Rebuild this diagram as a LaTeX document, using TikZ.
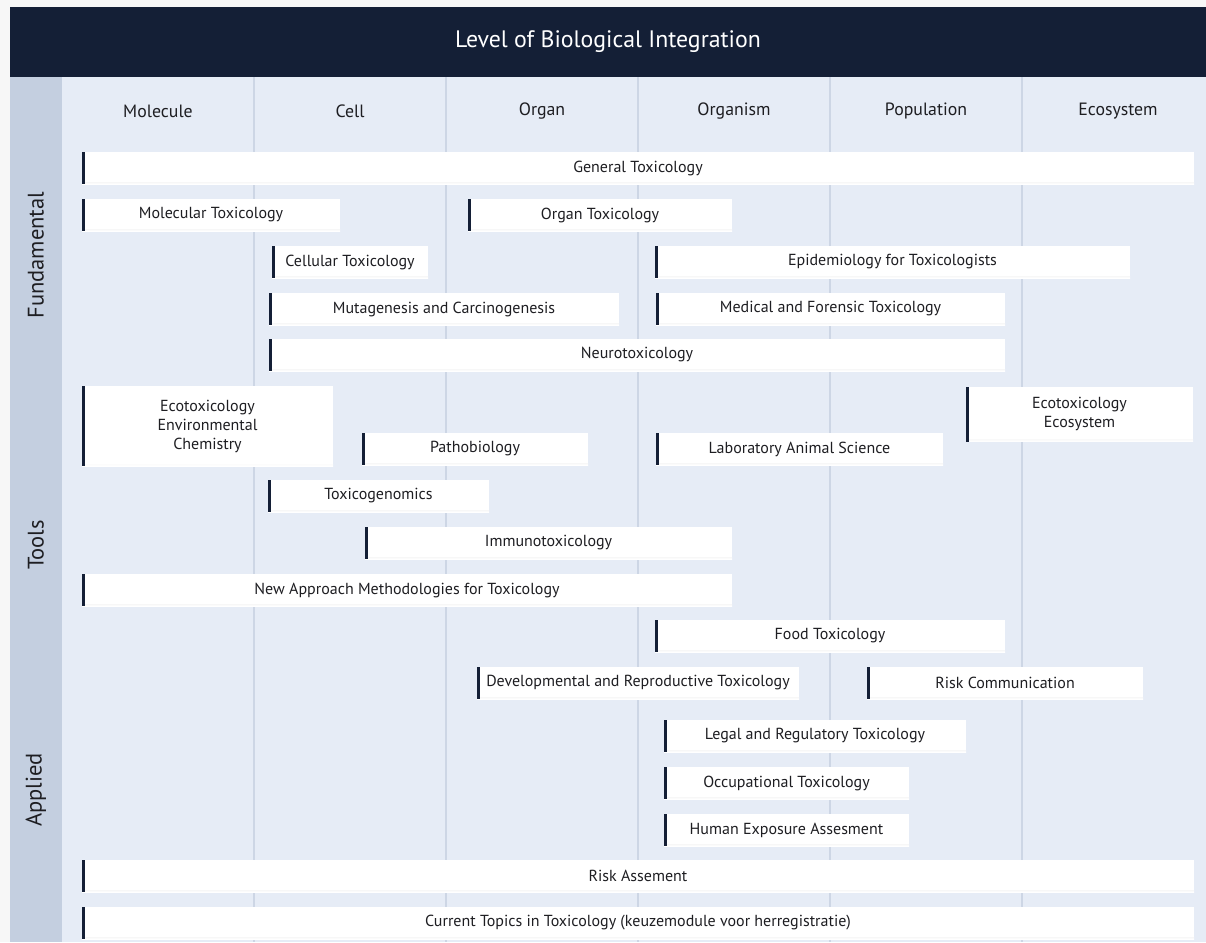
\documentclass[tikz,border=0pt]{standalone}
\usepackage{fontspec}
\setmainfont{PT Sans}
\definecolor{navy}{RGB}{20, 31, 54}
\definecolor{sidebar}{RGB}{196, 207, 224}
\definecolor{panel}{RGB}{230, 236, 246}
\definecolor{gridline}{RGB}{205, 214, 229}
\definecolor{shade}{RGB}{200, 211, 228}
\definecolor{ink}{RGB}{30, 30, 34}
\definecolor{page}{RGB}{247, 247, 247}
\usetikzlibrary{positioning}
\tikzset{
	topic/.style={rectangle, fill=white, inner sep=0pt, outer sep=0pt, minimum height=32pt, anchor=west, align=center, text=ink, font=\fontsize{16}{19}\selectfont,
		path picture={
			\fill[shade] ([yshift=2pt]path picture bounding box.south west) rectangle (path picture bounding box.south east);
			\fill[navy] (path picture bounding box.north west) rectangle ([xshift=3pt]path picture bounding box.south west);
		}},
	level/.style={font=\fontsize{17.8}{20}\selectfont, text=ink},
	rowlabel/.style={rotate=90, font=\fontsize{22.5}{26}\selectfont, text=ink},
	gridrule/.style={draw=gridline, line width=1.3pt},
}
\begin{document}
\begin{tikzpicture}[x=1pt, y=-1pt]
	\useasboundingbox (0,0) rectangle (1206,942);
	\fill[page] (0,0) rectangle (1206,942);
	% panels
	\fill[panel] (62,77) rectangle (1206,942);
	\fill[sidebar] (10,77) rectangle (62,942);
	\fill[navy] (10,7) rectangle (1206,77);
	\node[text=white, font=\fontsize{23.8}{28}\selectfont] (title) at (608,42) {Level of Biological Integration};
	% columns
	\foreach \xline in {254,446,638,830,1022}
		\draw[gridrule] (\xline,77) -- (\xline,942);
	\foreach \lname [count=\i from 0] in {Molecule,Cell,Organ,Organism,Population,Ecosystem}
		\node[level] (col\i) at (158+192*\i,111) {\lname};
	% rows
	\node[rowlabel] (fund) at (36,255) {Fundamental};
	\node[rowlabel] (tools) at (36,545) {Tools};
	\node[rowlabel] (appl) at (36,790) {Applied};

	% fundamental
	\node[topic, minimum width=1112pt] (gentox) at (82,168) {General Toxicology};
	\node[topic, minimum width=258pt] (moltox) at (82,215) {Molecular Toxicology};
	\node[topic, minimum width=264pt] (orgtox) at (468,215) {Organ Toxicology};
	\node[topic, minimum width=156pt] (celltox) at (272,262) {Cellular Toxicology};
	\node[topic, minimum width=475pt] (epid) at (655,262) {Epidemiology for Toxicologists};
	\node[topic, minimum width=350pt] (mutag) at (269,309) {Mutagenesis and Carcinogenesis};
	\node[topic, minimum width=349pt] (medfor) at (656,309) {Medical and Forensic Toxicology};
	\node[topic, minimum width=736pt] (neuro) at (269,355) {Neurotoxicology};

	% tools
	\node[topic, minimum width=251pt, minimum height=80pt] (ecoenv) at (82,426) {Ecotoxicology\\Environmental\\Chemistry};
	\node[topic, minimum width=227pt, minimum height=55pt] (ecosys) at (966,414) {Ecotoxicology\\Ecosystem};
	\node[topic, minimum width=226pt] (patho) at (362,449) {Pathobiology};
	\node[topic, minimum width=287pt] (labanim) at (656,449) {Laboratory Animal Science};
	\node[topic, minimum width=221pt] (genom) at (268,496) {Toxicogenomics};
	\node[topic, minimum width=367pt] (immuno) at (365,543) {Immunotoxicology};
	\node[topic, minimum width=650pt] (nam) at (82,590) {New Approach Methodologies for Toxicology};

	% applied
	\node[topic, minimum width=350pt] (food) at (655,636) {Food Toxicology};
	\node[topic, minimum width=322pt] (devrep) at (477,683) {Developmental and Reproductive Toxicology};
	\node[topic, minimum width=276pt] (riskcom) at (867,683) {Risk Communication};
	\node[topic, minimum width=302pt] (legal) at (664,736) {Legal and Regulatory Toxicology};
	\node[topic, minimum width=245pt] (occup) at (664,783) {Occupational Toxicology};
	\node[topic, minimum width=245pt] (humexp) at (664,830) {Human Exposure Assesment};
	\node[topic, minimum width=1112pt] (riskas) at (82,876) {Risk Assement};
	\node[topic, minimum width=1112pt] (current) at (82,923) {Current Topics in Toxicology (keuzemodule voor herregistratie)};
\end{tikzpicture}
\end{document}
